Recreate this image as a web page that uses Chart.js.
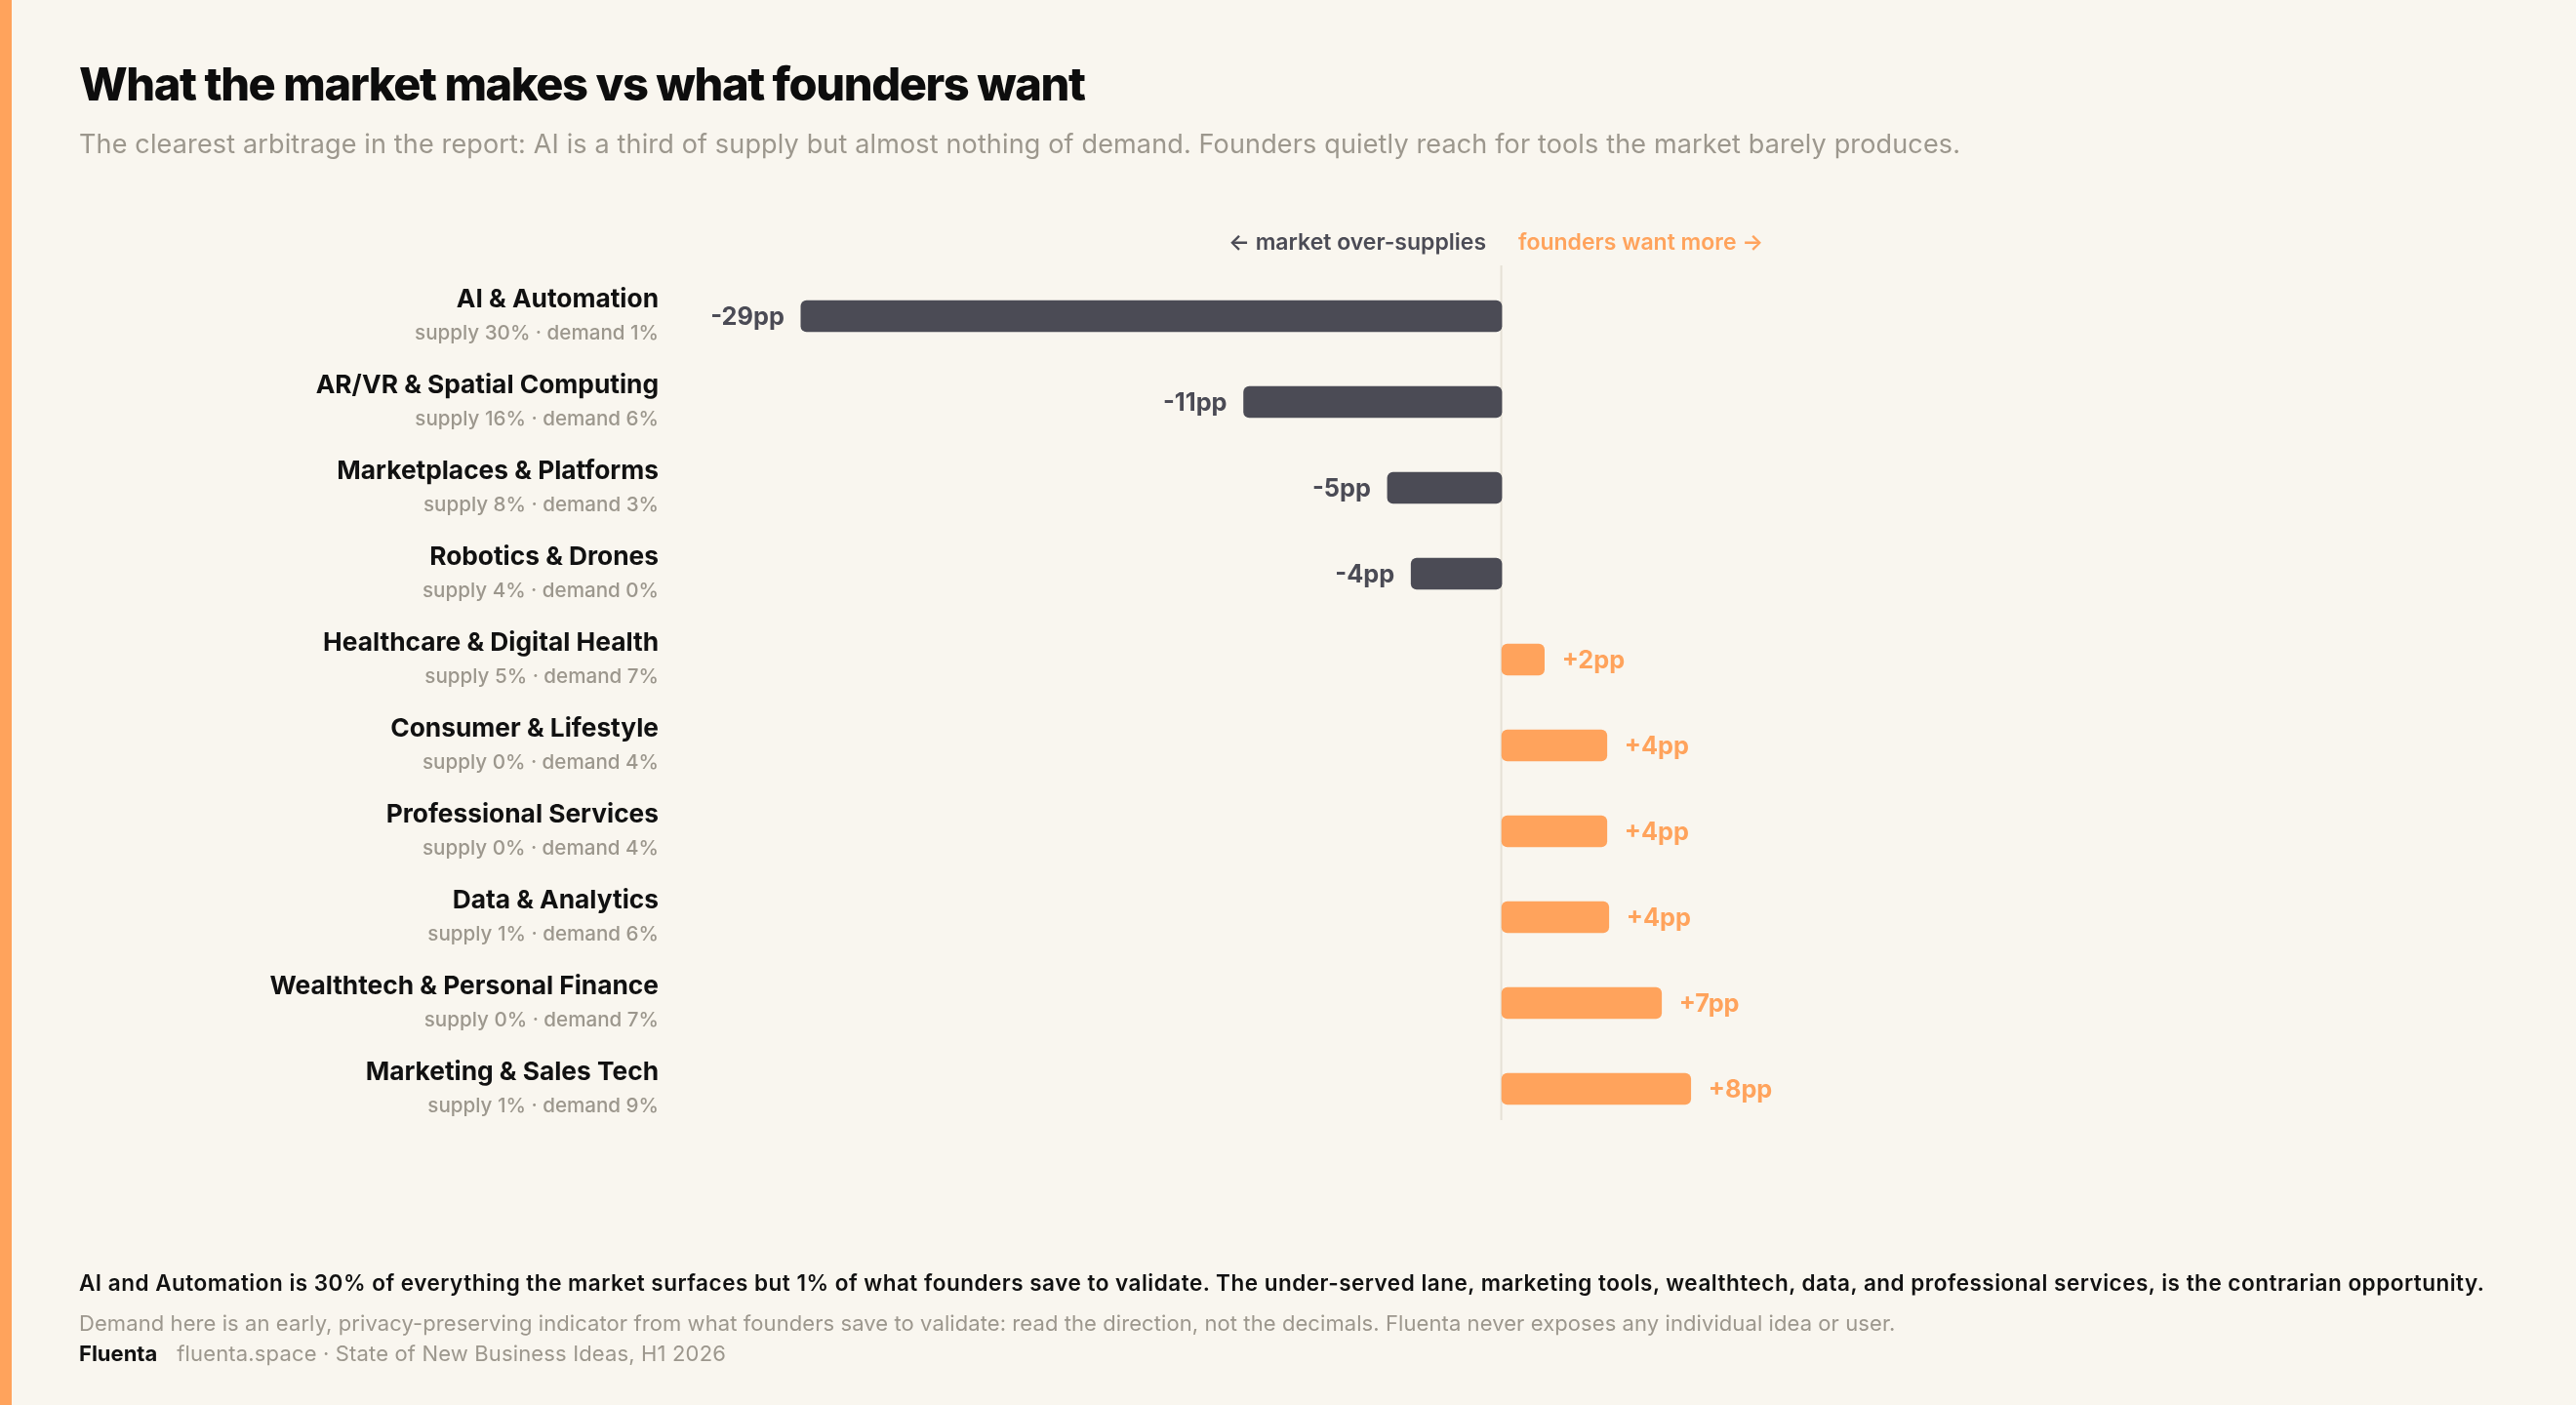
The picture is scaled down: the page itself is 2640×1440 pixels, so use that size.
<!DOCTYPE html>
<html>
<head>
<meta charset="utf-8">
<script src="https://cdn.jsdelivr.net/npm/chart.js@4.4.1/dist/chart.umd.min.js"></script>
<style>
  html, body { margin:0; padding:0; background:#F9F6EF; }
  body { width:2640px; height:1440px; position:relative; overflow:hidden; font-family: Inter, "Noto Sans", sans-serif; }
  .stripe { position:absolute; left:0; top:0; width:12px; height:1440px; background:#FFA35C; }
  .t { position:absolute; left:81px; line-height:1; white-space:nowrap; }
  #title { top:62px; font-size:47px; font-weight:800; color:#0D0D0D; letter-spacing:-0.03em; }
  #subtitle { top:134px; font-size:27px; font-weight:400; color:#9C978D; letter-spacing:0.15px; }
  #f1 { top:1304px; font-size:22.5px; font-weight:600; color:#111; letter-spacing:0.5px; }
  #f2 { top:1345px; font-size:22px; font-weight:400; color:#9C978D; letter-spacing:0.08px; }
  #f3 { top:1376px; font-size:22px; font-weight:400; color:#9C978D; letter-spacing:0.15px; }
  #f3 b { color:#111; font-weight:700; margin-right:20px; letter-spacing:0; }
  canvas { position:absolute; left:0; top:0; }
</style>
</head>
<body>
<div class="stripe"></div>
<canvas id="c" width="2640" height="1440"></canvas>
<div class="t" id="title">What the market makes vs what founders want</div>
<div class="t" id="subtitle">The clearest arbitrage in the report: AI is a third of supply but almost nothing of demand. Founders quietly reach for tools the market barely produces.</div>
<div class="t" id="f1">AI and Automation is 30% of everything the market surfaces but 1% of what founders save to validate. The under-served lane, marketing tools, wealthtech, data, and professional services, is the contrarian opportunity.</div>
<div class="t" id="f2">Demand here is an early, privacy-preserving indicator from what founders save to validate: read the direction, not the decimals. Fluenta never exposes any individual idea or user.</div>
<div class="t" id="f3"><b>Fluenta</b>fluenta.space · State of New Business Ideas, H1 2026</div>
<script>
const categories = [
  "AI & Automation",
  "AR/VR & Spatial Computing",
  "Marketplaces & Platforms",
  "Robotics & Drones",
  "Healthcare & Digital Health",
  "Consumer & Lifestyle",
  "Professional Services",
  "Data & Analytics",
  "Wealthtech & Personal Finance",
  "Marketing & Sales Tech"
];
const supplyPct = [30, 16, 8, 4, 5, 0, 0, 1, 0, 1];
const demandPct = [1, 6, 3, 0, 7, 4, 4, 6, 7, 9];
const gapPP = [-29.0, -10.68, -4.73, -3.75, 1.76, 4.35, 4.35, 4.43, 6.61, 7.82];
const arrowLeft = "\u2190 market over-supplies";
const arrowRight = "founders want more \u2192";

const DARK = "#4B4B55";
const ORANGE = "#FFA35C";
const FONT = 'Inter, "Noto Sans", sans-serif';

const annotate = {
  id: "annotate",
  beforeDatasetsDraw(chart) {
    const ctx = chart.ctx, x = chart.scales.x, y = chart.scales.y;
    const x0 = x.getPixelForValue(0);
    const yTop = y.getPixelForValue(0) - 52;
    const yBot = y.getPixelForValue(categories.length - 1) + 32;
    ctx.save();
    ctx.strokeStyle = "#E6E1D6";
    ctx.lineWidth = 2;
    ctx.beginPath();
    ctx.moveTo(x0 - 0.5, yTop);
    ctx.lineTo(x0 - 0.5, yBot);
    ctx.stroke();
    // direction labels
    const ya = y.getPixelForValue(0) - 68;
    ctx.font = "600 23px " + FONT;
    ctx.textBaseline = "alphabetic";
    ctx.textAlign = "right";
    ctx.fillStyle = DARK;
    ctx.fillText(arrowLeft, x0 - 16, ya);
    ctx.textAlign = "left";
    ctx.fillStyle = ORANGE;
    ctx.fillText(arrowRight, x0 + 17, ya);
    // category labels
    categories.forEach((name, i) => {
      const cy = y.getPixelForValue(i);
      ctx.textAlign = "right";
      ctx.font = "700 26.3px " + FONT;
      ctx.fillStyle = "#111111";
      ctx.fillText(name, 675, cy - 9);
      ctx.font = "500 20.6px " + FONT;
      ctx.fillStyle = "#9C978D";
      ctx.fillText("supply " + supplyPct[i] + "% \u00b7 demand " + demandPct[i] + "%", 675, cy + 24);
    });
    ctx.restore();
  },
  afterDatasetsDraw(chart) {
    const ctx = chart.ctx;
    const meta = chart.getDatasetMeta(0);
    ctx.save();
    ctx.font = "700 25.3px " + FONT;
    ctx.textBaseline = "middle";
    meta.data.forEach((bar, i) => {
      const v = gapPP[i];
      const txt = (v > 0 ? "+" : "-") + Math.abs(Math.round(v)) + "pp";
      if (v < 0) {
        ctx.textAlign = "right";
        ctx.fillStyle = DARK;
        ctx.fillText(txt, bar.x - 17, bar.y + 1);
      } else {
        ctx.textAlign = "left";
        ctx.fillStyle = ORANGE;
        ctx.fillText(txt, bar.x + 18, bar.y + 1);
      }
    });
    ctx.restore();
  }
};

new Chart(document.getElementById("c"), {
  type: "bar",
  data: {
    labels: categories,
    datasets: [{
      data: gapPP,
      backgroundColor: gapPP.map(v => v < 0 ? DARK : ORANGE),
      barThickness: 32,
      borderRadius: 6,
      borderSkipped: false
    }]
  },
  options: {
    indexAxis: "y",
    responsive: false,
    devicePixelRatio: 1,
    animation: false,
    layout: { padding: { left: 697, right: 457, top: 280, bottom: 280 } },
    plugins: { legend: { display: false }, tooltip: { enabled: false } },
    scales: {
      x: { display: false, min: -34, max: 26 },
      y: { display: false, offset: true, grid: { display: false } }
    }
  },
  plugins: [annotate]
});
</script>
</body>
</html>
